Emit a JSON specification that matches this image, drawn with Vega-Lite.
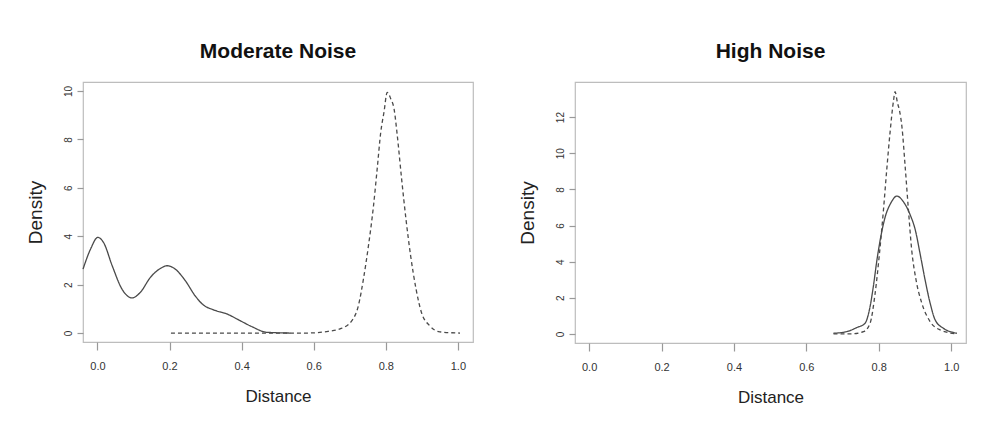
{
  "$schema": "https://vega.github.io/schema/vega-lite/v6.json",
  "background": "white",
  "padding": {"left": 25, "top": 40, "right": 10, "bottom": 10},
  "bounds": "flush",
  "spacing": 102,
  "config": {
    "font": "Liberation Sans",
    "view": {"stroke": "#bdbdbd", "strokeWidth": 1.2},
    "axis": {
      "grid": false, "domain": false,
      "tickColor": "#999999", "tickWidth": 1.2,
      "labelColor": "#333333", "labelFont": "Liberation Sans",
      "titleFont": "Liberation Sans", "titleFontWeight": "normal", "titleColor": "#222222"
    },
    "axisX": {"tickSize": 8, "labelFontSize": 11, "labelPadding": 10, "titleFontSize": 17, "titlePadding": 17},
    "axisY": {"tickSize": 6, "labelFontSize": 10, "labelAngle": -90, "labelPadding": 4, "labelAlign": "center", "labelBaseline": "bottom", "titleFontSize": 19, "titlePadding": 18},
    "title": {"fontSize": 21, "fontWeight": "bold", "font": "Liberation Sans", "color": "#111111", "offset": 20, "baseline": "alphabetic"}
  },
  "data": {"values": [
    {"panel": "M", "s": "solid", "x": -0.04, "y": 2.64},
    {"panel": "M", "s": "solid", "x": -0.019, "y": 3.47},
    {"panel": "M", "s": "solid", "x": 0.001, "y": 3.95},
    {"panel": "M", "s": "solid", "x": 0.017, "y": 3.74},
    {"panel": "M", "s": "solid", "x": 0.041, "y": 2.78},
    {"panel": "M", "s": "solid", "x": 0.068, "y": 1.82},
    {"panel": "M", "s": "solid", "x": 0.096, "y": 1.45},
    {"panel": "M", "s": "solid", "x": 0.119, "y": 1.68},
    {"panel": "M", "s": "solid", "x": 0.147, "y": 2.3},
    {"panel": "M", "s": "solid", "x": 0.175, "y": 2.67},
    {"panel": "M", "s": "solid", "x": 0.193, "y": 2.78},
    {"panel": "M", "s": "solid", "x": 0.216, "y": 2.64},
    {"panel": "M", "s": "solid", "x": 0.244, "y": 2.16},
    {"panel": "M", "s": "solid", "x": 0.271, "y": 1.54},
    {"panel": "M", "s": "solid", "x": 0.294, "y": 1.16},
    {"panel": "M", "s": "solid", "x": 0.322, "y": 0.96},
    {"panel": "M", "s": "solid", "x": 0.359, "y": 0.79},
    {"panel": "M", "s": "solid", "x": 0.396, "y": 0.51},
    {"panel": "M", "s": "solid", "x": 0.429, "y": 0.26},
    {"panel": "M", "s": "solid", "x": 0.47, "y": 0.03},
    {"panel": "M", "s": "solid", "x": 0.535, "y": 0.0},
    {"panel": "M", "s": "dashed", "x": 0.204, "y": 0.0},
    {"panel": "M", "s": "dashed", "x": 0.58, "y": 0.0},
    {"panel": "M", "s": "dashed", "x": 0.64, "y": 0.07},
    {"panel": "M", "s": "dashed", "x": 0.673, "y": 0.17},
    {"panel": "M", "s": "dashed", "x": 0.706, "y": 0.51},
    {"panel": "M", "s": "dashed", "x": 0.724, "y": 1.13},
    {"panel": "M", "s": "dashed", "x": 0.738, "y": 2.23},
    {"panel": "M", "s": "dashed", "x": 0.752, "y": 3.61},
    {"panel": "M", "s": "dashed", "x": 0.766, "y": 5.26},
    {"panel": "M", "s": "dashed", "x": 0.777, "y": 6.91},
    {"panel": "M", "s": "dashed", "x": 0.786, "y": 8.29},
    {"panel": "M", "s": "dashed", "x": 0.795, "y": 9.12},
    {"panel": "M", "s": "dashed", "x": 0.804, "y": 9.94},
    {"panel": "M", "s": "dashed", "x": 0.814, "y": 9.67},
    {"panel": "M", "s": "dashed", "x": 0.823, "y": 9.26},
    {"panel": "M", "s": "dashed", "x": 0.832, "y": 8.15},
    {"panel": "M", "s": "dashed", "x": 0.844, "y": 6.36},
    {"panel": "M", "s": "dashed", "x": 0.856, "y": 4.71},
    {"panel": "M", "s": "dashed", "x": 0.869, "y": 3.19},
    {"panel": "M", "s": "dashed", "x": 0.884, "y": 1.82},
    {"panel": "M", "s": "dashed", "x": 0.899, "y": 0.85},
    {"panel": "M", "s": "dashed", "x": 0.922, "y": 0.3},
    {"panel": "M", "s": "dashed", "x": 0.95, "y": 0.05},
    {"panel": "M", "s": "dashed", "x": 1.006, "y": 0.0},
    {"panel": "H", "s": "solid", "x": 0.675, "y": 0.04},
    {"panel": "H", "s": "solid", "x": 0.712, "y": 0.13},
    {"panel": "H", "s": "solid", "x": 0.739, "y": 0.35},
    {"panel": "H", "s": "solid", "x": 0.762, "y": 0.59},
    {"panel": "H", "s": "solid", "x": 0.776, "y": 1.51},
    {"panel": "H", "s": "solid", "x": 0.785, "y": 2.62},
    {"panel": "H", "s": "solid", "x": 0.795, "y": 4.09},
    {"panel": "H", "s": "solid", "x": 0.804, "y": 5.2},
    {"panel": "H", "s": "solid", "x": 0.818, "y": 6.49},
    {"panel": "H", "s": "solid", "x": 0.833, "y": 7.23},
    {"panel": "H", "s": "solid", "x": 0.85, "y": 7.63},
    {"panel": "H", "s": "solid", "x": 0.868, "y": 7.32},
    {"panel": "H", "s": "solid", "x": 0.887, "y": 6.58},
    {"panel": "H", "s": "solid", "x": 0.901, "y": 5.75},
    {"panel": "H", "s": "solid", "x": 0.914, "y": 4.46},
    {"panel": "H", "s": "solid", "x": 0.928, "y": 2.99},
    {"panel": "H", "s": "solid", "x": 0.942, "y": 1.7},
    {"panel": "H", "s": "solid", "x": 0.956, "y": 0.77},
    {"panel": "H", "s": "solid", "x": 0.979, "y": 0.31},
    {"panel": "H", "s": "solid", "x": 1.016, "y": 0.04},
    {"panel": "H", "s": "dashed", "x": 0.675, "y": 0.0},
    {"panel": "H", "s": "dashed", "x": 0.721, "y": 0.0},
    {"panel": "H", "s": "dashed", "x": 0.758, "y": 0.13},
    {"panel": "H", "s": "dashed", "x": 0.776, "y": 0.59},
    {"panel": "H", "s": "dashed", "x": 0.79, "y": 2.25},
    {"panel": "H", "s": "dashed", "x": 0.802, "y": 4.46},
    {"panel": "H", "s": "dashed", "x": 0.813, "y": 6.86},
    {"panel": "H", "s": "dashed", "x": 0.822, "y": 9.07},
    {"panel": "H", "s": "dashed", "x": 0.831, "y": 11.1},
    {"panel": "H", "s": "dashed", "x": 0.841, "y": 12.94},
    {"panel": "H", "s": "dashed", "x": 0.845, "y": 13.4},
    {"panel": "H", "s": "dashed", "x": 0.852, "y": 12.76},
    {"panel": "H", "s": "dashed", "x": 0.857, "y": 12.39},
    {"panel": "H", "s": "dashed", "x": 0.864, "y": 11.47},
    {"panel": "H", "s": "dashed", "x": 0.873, "y": 9.25},
    {"panel": "H", "s": "dashed", "x": 0.882, "y": 6.86},
    {"panel": "H", "s": "dashed", "x": 0.891, "y": 4.65},
    {"panel": "H", "s": "dashed", "x": 0.903, "y": 2.99},
    {"panel": "H", "s": "dashed", "x": 0.919, "y": 1.7},
    {"panel": "H", "s": "dashed", "x": 0.942, "y": 0.68},
    {"panel": "H", "s": "dashed", "x": 0.97, "y": 0.22},
    {"panel": "H", "s": "dashed", "x": 1.016, "y": 0.0}
  ]},
  "hconcat": [
    {
      "title": "Moderate Noise",
      "width": 390, "height": 260,
      "transform": [{"filter": "datum.panel === 'M'"}],
      "mark": {"type": "line", "strokeWidth": 1.3, "color": "#4a4a4a", "interpolate": "monotone"},
      "encoding": {
        "x": {"field": "x", "type": "quantitative", "title": "Distance",
              "scale": {"domain": [-0.04, 1.042], "nice": false, "zero": false},
              "axis": {"values": [0, 0.2, 0.4, 0.6, 0.8, 1.0], "format": ".1f"}},
        "y": {"field": "y", "type": "quantitative", "title": "Density",
              "scale": {"domain": [-0.37, 10.37], "nice": false, "zero": false},
              "axis": {"values": [0, 2, 4, 6, 8, 10]}},
        "detail": {"field": "s"},
        "strokeDash": {"field": "s", "type": "nominal", "legend": null,
                       "scale": {"domain": ["solid", "dashed"], "range": [[1, 0], [4, 3]]}}
      }
    },
    {
      "title": "High Noise",
      "width": 391, "height": 261,
      "transform": [{"filter": "datum.panel === 'H'"}],
      "mark": {"type": "line", "strokeWidth": 1.3, "color": "#4a4a4a", "interpolate": "monotone"},
      "encoding": {
        "x": {"field": "x", "type": "quantitative", "title": "Distance",
              "scale": {"domain": [-0.039, 1.041], "nice": false, "zero": false},
              "axis": {"values": [0, 0.2, 0.4, 0.6, 0.8, 1.0], "format": ".1f"}},
        "y": {"field": "y", "type": "quantitative", "title": "Density",
              "scale": {"domain": [-0.5, 13.94], "nice": false, "zero": false},
              "axis": {"values": [0, 2, 4, 6, 8, 10, 12]}},
        "detail": {"field": "s"},
        "strokeDash": {"field": "s", "type": "nominal", "legend": null,
                       "scale": {"domain": ["solid", "dashed"], "range": [[1, 0], [4, 3]]}}
      }
    }
  ]
}
